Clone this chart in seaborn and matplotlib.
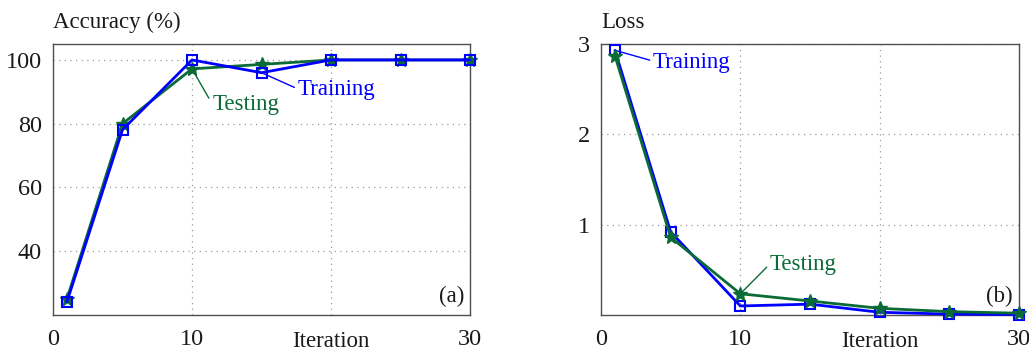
import matplotlib
matplotlib.use("Agg")
import matplotlib.pyplot as plt
import seaborn as sns
import pandas as pd

iterations = [1, 5, 10, 15, 20, 25, 30]
acc_training = [24.1, 78.1, 100.0, 96.0, 100.0, 100.0, 100.0]
acc_testing = [25.0, 80.0, 97.2, 98.6, 100.0, 100.0, 100.0]
loss_training = [2.93, 0.92, 0.10, 0.12, 0.03, 0.01, 0.005]
loss_testing = [2.87, 0.86, 0.235, 0.155, 0.074, 0.037, 0.02]

sns.set_style("white")
plt.rcParams['font.family'] = ['Liberation Serif', 'DejaVu Serif']
plt.rcParams['font.size'] = 16

BLUE = '#0000ff'
GREEN = '#0b6b37'
FRAME = '#505050'
GRID = '#9a9a9a'
TXT = '#1a1a1a'
TICK_FS = 17.5
LBL_FS = 16.5

fig = plt.figure(figsize=(10.29, 3.51), dpi=100)
axA = fig.add_axes([53/1029, 1-315/351, 417/1029, 271/351])
axB = fig.add_axes([601/1029, 1-315/351, 418/1029, 271/351])

def style(ax, yticks, ylim):
    ax.set_xlim(0, 30)
    ax.set_ylim(*ylim)
    ax.set_xticks([0, 10, 20, 30])
    ax.set_xticklabels(['0', '10', '', '30'])
    ax.set_yticks(yticks)
    ax.set_yticklabels([str(t) for t in yticks])
    ax.tick_params(axis='both', length=0, labelsize=TICK_FS, colors=TXT)
    ax.tick_params(axis='x', pad=10)
    ax.tick_params(axis='y', pad=8)
    ax.grid(True, color=GRID, linestyle=(0, (1, 3.5)), linewidth=0.9)
    for s in ax.spines.values():
        s.set_color(FRAME)
        s.set_linewidth(1.0)
    ax.set_xlabel('Iteration', fontsize=LBL_FS, color=TXT)
    ax.xaxis.set_label_coords(20/30, -0.06)
    ax.xaxis.label.set_va('top')

def train(ax, y, z):
    sns.lineplot(x=iterations, y=y, ax=ax, color=BLUE, linewidth=2.0,
                 marker='s', markersize=6.5, markerfacecolor='none',
                 markeredgecolor=BLUE, markeredgewidth=1.5, zorder=z)

def test(ax, y, z):
    sns.lineplot(x=iterations, y=y, ax=ax, color=GREEN, linewidth=2.0,
                 marker='*', markersize=10, markerfacecolor=GREEN,
                 markeredgecolor=GREEN, markeredgewidth=1.0, zorder=z)

# (a) Accuracy
test(axA, acc_testing, 3)
train(axA, acc_training, 4)
style(axA, [40, 60, 80, 100], (20, 105))
axA.text(0, 1.081, 'Accuracy (%)', transform=axA.transAxes, ha='left', va='center',
         fontsize=LBL_FS, color=TXT)
axA.text(0.9856, 0.07, '(a)', transform=axA.transAxes, ha='right', va='center',
         fontsize=LBL_FS, color=TXT)
axA.annotate('Training', xy=(15, 96.0), xytext=(17.6, 90.6), color=BLUE, fontsize=LBL_FS,
             ha='left', va='center',
             arrowprops=dict(arrowstyle='-', color=BLUE, lw=1.0, shrinkA=0, shrinkB=0,
                             relpos=(0, 0.55)))
axA.annotate('Testing', xy=(10, 97.2), xytext=(11.45, 85.9), color=GREEN, fontsize=LBL_FS,
             ha='left', va='center',
             arrowprops=dict(arrowstyle='-', color=GREEN, lw=1.0, shrinkA=0, shrinkB=0,
                             relpos=(0, 0.55)))

# (b) Loss
train(axB, loss_training, 3)
test(axB, loss_testing, 4)
style(axB, [1, 2, 3], (0, 3))
axB.text(0, 1.081, 'Loss', transform=axB.transAxes, ha='left', va='center',
         fontsize=LBL_FS, color=TXT)
axB.text(0.985, 0.07, '(b)', transform=axB.transAxes, ha='right', va='center',
         fontsize=LBL_FS, color=TXT)
axB.annotate('Training', xy=(1, 2.93), xytext=(3.73, 2.80), color=BLUE, fontsize=LBL_FS,
             ha='left', va='center',
             arrowprops=dict(arrowstyle='-', color=BLUE, lw=1.0, shrinkA=0, shrinkB=0,
                             relpos=(0, 0.55)))
axB.annotate('Testing', xy=(10, 0.235), xytext=(12.13, 0.554), color=GREEN, fontsize=LBL_FS,
             ha='left', va='center',
             arrowprops=dict(arrowstyle='-', color=GREEN, lw=1.0, shrinkA=0, shrinkB=0,
                             relpos=(0, 0.55)))

for ax in (axA, axB):
    for line in ax.lines:
        line.set_clip_on(False)

fig.savefig('out.png', dpi=100)
